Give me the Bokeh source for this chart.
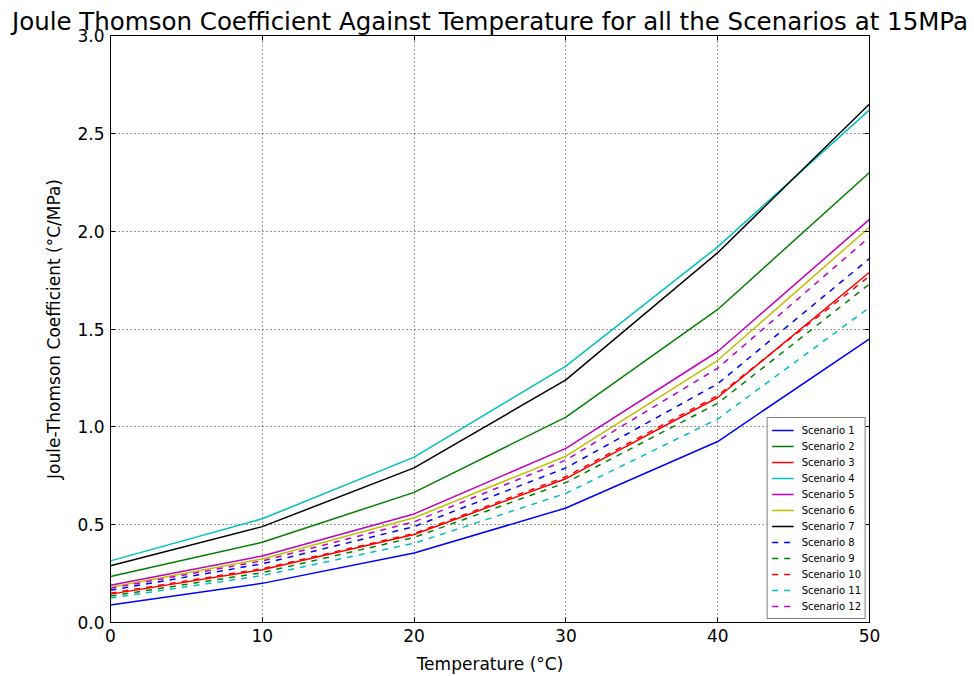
from bokeh.plotting import figure
from bokeh.models import LinearAxis, Legend, LegendItem, FixedTicker
from bokeh.embed import file_html
from bokeh.resources import INLINE

temps = [0, 10, 20, 30, 40, 50]
s1 = [0.09, 0.20, 0.355, 0.585, 0.925, 1.45]
s2 = [0.235, 0.41, 0.665, 1.05, 1.60, 2.30]
s3 = [0.145, 0.27, 0.45, 0.735, 1.15, 1.79]
s4 = [0.315, 0.53, 0.845, 1.31, 1.92, 2.62]
s5 = [0.19, 0.34, 0.555, 0.89, 1.385, 2.06]
s6 = [0.18, 0.325, 0.535, 0.85, 1.34, 2.02]
s7 = [0.29, 0.49, 0.79, 1.24, 1.89, 2.65]
s8 = [0.165, 0.30, 0.49, 0.79, 1.22, 1.86]
s9 = [0.135, 0.255, 0.435, 0.715, 1.12, 1.73]
s10 = [0.15, 0.275, 0.455, 0.745, 1.16, 1.77]
s11 = [0.125, 0.24, 0.405, 0.66, 1.04, 1.61]
s12 = [0.175, 0.315, 0.515, 0.83, 1.30, 1.97]

names = ["Scenario %d" % i for i in range(1, 13)]
series = [s1, s2, s3, s4, s5, s6, s7, s8, s9, s10, s11, s12]
colors = ["#0000ff", "#008000", "#ff0000", "#00bfbf", "#bf00bf", "#bfbf00", "#000000",
          "#0000ff", "#008000", "#ff0000", "#00bfbf", "#bf00bf"]
dashes = ["solid"] * 7 + ["6 6"] * 5

x_ticks = [0, 10, 20, 30, 40, 50]
y_ticks = [0.0, 0.5, 1.0, 1.5, 2.0, 2.5, 3.0]

FONT = "DejaVu Sans"

p = figure(width=974, height=676, output_backend="svg", toolbar_location=None,
           x_range=(0, 50), y_range=(0, 3.0),
           title="Joule Thomson Coefficient Against Temperature for all the Scenarios at 15MPa",
           min_border_left=110, min_border_right=105, min_border_bottom=54, min_border_top=35)

p.title.text_font = FONT
p.title.text_font_size = "24.5px"
p.title.text_font_style = "normal"
p.title.text_color = "black"
p.title.align = "center"
p.title.standoff = 0

items = []
for name, ys, c, d in zip(names, series, colors, dashes):
    r = p.line(temps, ys, line_color=c, line_width=1.5, line_dash=d)
    items.append(LegendItem(label=name, renderers=[r]))

for ax in (p.xaxis[0], p.yaxis[0]):
    ax.major_label_text_font = FONT
    ax.major_label_text_font_size = "17px"
    ax.major_label_text_color = "black"
    ax.axis_label_text_font = FONT
    ax.axis_label_text_font_size = "17px"
    ax.axis_label_text_font_style = "normal"
    ax.axis_label_text_color = "black"
    ax.major_tick_in = 5
    ax.major_tick_out = 0
    ax.minor_tick_in = 0
    ax.minor_tick_out = 0
    ax.axis_line_color = "black"
    ax.major_label_standoff = 6

p.xaxis[0].ticker = FixedTicker(ticks=x_ticks)
p.yaxis[0].ticker = FixedTicker(ticks=y_ticks)
p.xaxis[0].axis_label = "Temperature (°C)"
p.yaxis[0].axis_label = "Joule-Thomson Coefficient (°C/MPa)"
p.xaxis[0].axis_label_standoff = 9
p.yaxis[0].axis_label_standoff = 10
p.yaxis[0].major_label_overrides = {0: "0.0", 0.5: "0.5", 1: "1.0", 1.5: "1.5", 2: "2.0", 2.5: "2.5", 3: "3.0"}

for side, ticks in (("right", y_ticks), ("above", x_ticks)):
    ax = LinearAxis(ticker=FixedTicker(ticks=ticks))
    ax.major_label_overrides = {t: "" for t in ticks}
    ax.major_label_text_font_size = "1px"
    ax.major_label_standoff = 0
    ax.major_tick_in = 5
    ax.major_tick_out = 0
    ax.minor_tick_in = 0
    ax.minor_tick_out = 0
    p.add_layout(ax, side)

p.xgrid.grid_line_color = "black"
p.ygrid.grid_line_color = "black"
p.xgrid.grid_line_dash = "1 3"
p.ygrid.grid_line_dash = "1 3"
p.xgrid.grid_line_alpha = 0.8
p.ygrid.grid_line_alpha = 0.8

p.outline_line_color = "black"
p.outline_line_width = 1
p.outline_line_alpha = 1.0

legend = Legend(items=items, location="bottom_right")
legend.label_text_font = FONT
legend.label_text_font_size = "10px"
legend.label_text_color = "black"
legend.label_height = 16
legend.glyph_height = 16
legend.glyph_width = 22
legend.label_standoff = 8
legend.spacing = 0
legend.padding = 4
legend.margin = 3
legend.border_line_color = "black"
legend.border_line_width = 1.5
legend.background_fill_color = "white"
legend.background_fill_alpha = 1.0
p.add_layout(legend)

open("out.html", "w").write(file_html(p, INLINE))
